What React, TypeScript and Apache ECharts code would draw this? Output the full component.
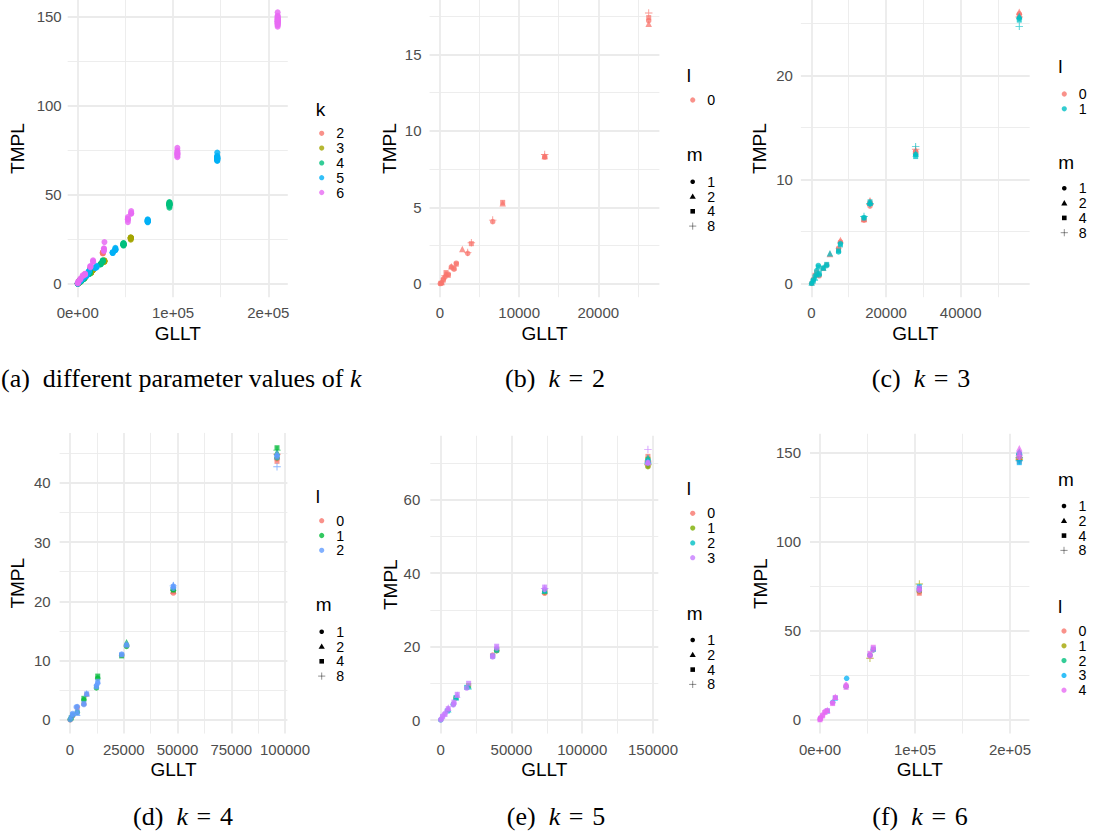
import React, { useEffect, useRef } from 'react';
import * as echarts from 'echarts';

// ---------------- data: rows are [GLLT, TMPL, l, m] ----------------
const K2_ROWS: number[][] = [
  [26370, 17.2, 0, 1], [26370, 17.0, 0, 2], [26370, 17.4, 0, 4], [26370, 17.7, 0, 8],
  [13230, 8.28, 0, 1], [13230, 8.35, 0, 2], [13230, 8.3, 0, 4], [13230, 8.45, 0, 8],
  [7920, 5.27, 0, 2], [7920, 5.32, 0, 4],
  [6660, 4.06, 0, 1], [6660, 4.16, 0, 8],
  [3960, 2.62, 0, 4], [3960, 2.68, 0, 8],
  [3500, 1.99, 0, 1], [3500, 2.05, 0, 8],
  [2820, 2.27, 0, 2],
  [2060, 1.28, 0, 4], [2060, 1.34, 0, 1],
  [1770, 0.95, 0, 1], [1770, 1.02, 0, 4],
  [1430, 1.1, 0, 1], [1430, 1.14, 0, 2],
  [1050, 0.55, 0, 4], [1050, 0.62, 0, 1],
  [760, 0.66, 0, 2], [760, 0.73, 0, 4],
  [630, 0.44, 0, 1], [630, 0.52, 0, 8],
  [420, 0.24, 0, 4], [420, 0.3, 0, 1],
  [210, 0.07, 0, 1], [210, 0.12, 0, 2],
  [100, 0.03, 0, 4], [40, 0.01, 0, 1],
];

const K3_ROWS: number[][] = [
  [55690, 25.9, 0, 1], [55690, 26.1, 0, 2], [55690, 25.7, 0, 4], [55690, 25.6, 0, 8],
  [55690, 25.5, 1, 1], [55690, 25.7, 1, 2], [55690, 25.3, 1, 4], [55690, 24.7, 1, 8],
  [27950, 12.7, 0, 1], [27950, 12.8, 0, 2], [27950, 12.6, 0, 4], [27950, 12.9, 0, 8],
  [27950, 12.4, 1, 1], [27950, 12.5, 1, 2], [27950, 12.2, 1, 4], [27950, 13.15, 1, 8],
  [15720, 7.45, 0, 1], [15720, 8.0, 0, 2], [15720, 7.7, 0, 4], [15720, 7.6, 0, 8],
  [15720, 7.65, 1, 1], [15720, 7.8, 1, 2], [15720, 7.85, 1, 4], [15720, 7.7, 1, 8],
  [14110, 6.1, 0, 1], [14110, 6.2, 0, 2], [14110, 6.15, 0, 4],
  [14110, 6.35, 1, 1], [14110, 6.3, 1, 4], [14110, 6.45, 1, 8],
  [7800, 4.0, 0, 1], [7800, 4.2, 0, 2], [7800, 3.85, 1, 1], [7800, 3.72, 1, 4],
  [7300, 3.4, 0, 1], [7300, 3.25, 0, 4], [7300, 3.15, 1, 4], [7300, 3.05, 1, 1],
  [5000, 2.85, 0, 2], [5000, 2.92, 1, 2],
  [4120, 1.8, 0, 1], [4120, 1.85, 1, 4], [4120, 1.72, 1, 1],
  [3210, 1.45, 0, 4], [3210, 1.5, 1, 4], [3210, 1.55, 1, 2],
  [2140, 0.75, 0, 1], [2140, 1.0, 1, 4], [2140, 0.85, 1, 1],
  [1880, 1.75, 1, 1], [1880, 1.6, 1, 4],
  [1440, 1.1, 0, 1], [1440, 1.25, 1, 1], [1440, 0.85, 1, 4],
  [990, 0.8, 0, 4], [990, 0.74, 1, 1], [990, 0.6, 1, 2],
  [540, 0.4, 0, 1], [540, 0.36, 1, 1], [540, 0.25, 1, 4],
  [100, 0.02, 0, 1], [100, 0.04, 1, 1], [100, 0.1, 1, 2],
];

const K4_ROWS: number[][] = [
  [96280, 44.0, 0, 1], [96280, 44.5, 0, 2], [96280, 43.6, 0, 4], [96280, 44.8, 0, 8],
  [96280, 44.2, 1, 1], [96280, 45.2, 1, 2], [96280, 45.9, 1, 4], [96280, 45.5, 1, 8],
  [96280, 44.6, 2, 1], [96280, 45.0, 2, 2], [96280, 44.3, 2, 4], [96280, 42.7, 2, 8],
  [48060, 21.4, 0, 1], [48060, 21.8, 0, 2], [48060, 21.6, 0, 4],
  [48060, 22.0, 1, 1], [48060, 22.3, 1, 2], [48060, 21.9, 1, 4],
  [48060, 22.2, 2, 1], [48060, 22.8, 2, 2], [48060, 22.5, 2, 4], [48060, 22.6, 2, 8],
  [26300, 12.5, 0, 1], [26300, 12.4, 1, 1], [26300, 13.1, 1, 2], [26300, 12.9, 2, 2], [26300, 12.6, 2, 4],
  [24030, 10.9, 0, 1], [24030, 10.8, 1, 4], [24030, 11.0, 2, 4], [24030, 11.1, 2, 1],
  [12900, 7.4, 1, 4], [12900, 7.05, 1, 1], [12900, 6.5, 2, 4], [12900, 6.2, 2, 1],
  [12300, 5.6, 2, 4], [12300, 5.4, 1, 1], [12300, 5.8, 2, 1],
  [7750, 4.3, 0, 1], [7750, 4.5, 2, 2], [7750, 4.4, 2, 4],
  [6450, 2.7, 0, 1], [6450, 3.65, 1, 4], [6450, 3.4, 1, 1], [6450, 2.8, 2, 4], [6450, 2.6, 2, 1],
  [3400, 2.1, 0, 1], [3400, 1.3, 1, 1], [3400, 2.25, 2, 1], [3400, 1.4, 2, 4], [3400, 1.2, 2, 2],
  [2900, 2.2, 2, 1],
  [1240, 0.7, 0, 1], [1240, 0.8, 1, 1], [1240, 1.1, 2, 1], [1240, 0.9, 2, 4],
  [600, 0.35, 1, 4], [600, 0.5, 2, 1],
  [100, 0.02, 0, 1], [100, 0.1, 1, 1], [100, 0.05, 2, 1],
];

const K5_ROWS: number[][] = [
  [146400, 69.2, 0, 1], [146400, 71.2, 0, 2], [146400, 71.8, 0, 4], [146400, 70.5, 0, 8],
  [146400, 69.0, 1, 1], [146400, 70.8, 1, 2], [146400, 71.0, 1, 4], [146400, 69.5, 1, 8],
  [146400, 70.2, 2, 1], [146400, 71.5, 2, 2], [146400, 70.6, 2, 4], [146400, 70.0, 2, 8],
  [146400, 69.9, 3, 1], [146400, 70.3, 3, 2], [146400, 70.1, 3, 4], [146400, 73.7, 3, 8],
  [73450, 34.5, 0, 1], [73450, 34.8, 0, 4], [73450, 34.9, 1, 1], [73450, 35.1, 1, 4],
  [73450, 35.3, 2, 2], [73450, 35.2, 2, 4], [73450, 35.6, 3, 1], [73450, 36.2, 3, 4], [73450, 35.8, 3, 8],
  [39550, 18.9, 0, 1], [39550, 18.9, 1, 1], [39550, 19.2, 1, 4], [39550, 19.0, 2, 4], [39550, 19.6, 3, 1], [39550, 20.1, 3, 4],
  [36720, 17.7, 0, 1], [36720, 17.4, 2, 4], [36720, 17.2, 3, 1], [36720, 17.5, 3, 4],
  [19770, 9.4, 1, 4], [19770, 9.2, 2, 2], [19770, 10.0, 3, 4],
  [18360, 8.9, 2, 4], [18360, 8.7, 3, 1],
  [11720, 6.9, 3, 2], [11720, 7.0, 3, 4],
  [10800, 6.0, 1, 1], [10800, 6.1, 2, 4], [10800, 6.2, 2, 2],
  [9390, 4.5, 3, 1], [9390, 4.9, 3, 4],
  [8900, 4.3, 2, 1], [8900, 4.1, 3, 1],
  [5370, 2.9, 2, 2], [5370, 3.1, 3, 4], [5370, 3.4, 3, 2],
  [4660, 2.45, 2, 4], [4660, 2.6, 3, 1],
  [3040, 1.5, 3, 4], [3040, 1.8, 3, 1],
  [1410, 0.9, 3, 4], [1410, 1.1, 3, 1],
  [400, 0.3, 3, 1],
  [50, 0.02, 2, 1], [50, 0.05, 3, 1],
];

const K6_ROWS: number[][] = [
  [209800, 146.3, 0, 1], [209800, 147.5, 0, 2], [209800, 145.2, 0, 4], [209800, 147.0, 0, 8],
  [209800, 147.8, 1, 1], [209800, 148.5, 1, 2], [209800, 146.5, 1, 4], [209800, 146.0, 1, 8],
  [209800, 149.0, 2, 1], [209800, 150.6, 2, 2], [209800, 148.7, 2, 4], [209800, 147.2, 2, 8],
  [209800, 149.7, 3, 1], [209800, 150.2, 3, 2], [209800, 144.4, 3, 4], [209800, 145.5, 3, 8],
  [209800, 147.4, 4, 1], [209800, 152.5, 4, 2], [209800, 149.4, 4, 4], [209800, 148.2, 4, 8],
  [104560, 71.8, 0, 1], [104560, 71.1, 0, 4], [104560, 72.4, 1, 1], [104560, 76.3, 1, 8],
  [104560, 73.0, 2, 4], [104560, 73.5, 3, 1], [104560, 74.8, 3, 4], [104560, 72.8, 4, 1], [104560, 74.0, 4, 4],
  [56100, 39.3, 2, 1], [56100, 39.8, 3, 4], [56100, 39.5, 4, 1], [56100, 40.8, 4, 4],
  [52630, 36.2, 0, 1], [52630, 34.6, 1, 8], [52630, 36.5, 3, 1], [52630, 35.9, 4, 1], [52630, 37.4, 4, 4],
  [28070, 23.4, 3, 1],
  [27500, 18.8, 2, 1], [27500, 19.6, 4, 1], [27500, 19.9, 4, 2], [27500, 18.3, 4, 4],
  [16140, 12.2, 3, 4], [16140, 13.1, 4, 2], [16140, 12.6, 4, 4],
  [13330, 9.9, 3, 1], [13330, 9.7, 4, 1], [13330, 9.2, 4, 4],
  [7720, 5.0, 3, 4], [7720, 5.6, 4, 2], [7720, 5.2, 4, 4],
  [5260, 4.7, 4, 1], [5260, 4.2, 4, 4],
  [2810, 2.8, 4, 1], [2810, 2.3, 4, 4],
  [700, 1.3, 4, 1], [700, 0.9, 4, 4],
  [50, 0.4, 4, 1], [50, 0.1, 4, 4],
];

const K_LEVELS = [2, 3, 4, 5, 6];
const M_LEVELS = [1, 2, 4, 8];
const ROWS_BY_K: Record<number, number[][]> = { 2: K2_ROWS, 3: K3_ROWS, 4: K4_ROWS, 5: K5_ROWS, 6: K6_ROWS };

// ---------------- tick values / labels ----------------
const SCI_X_TICKS = [0, 100000, 200000];
const SCI_X_LABELS = ['0e+00', '1e+05', '2e+05'];
const SCI_X_MINOR = [50000, 150000];
const Y150_TICKS = [0, 50, 100, 150];
const Y150_MINOR = [25, 75, 125];
const B_X_TICKS = [0, 10000, 20000];
const B_X_MINOR = [5000, 15000, 25000];
const B_Y_TICKS = [0, 5, 10, 15];
const B_Y_MINOR = [2.5, 7.5, 12.5, 17.5];
const C_X_TICKS = [0, 20000, 40000];
const C_X_MINOR = [10000, 30000, 50000];
const C_Y_TICKS = [0, 10, 20];
const C_Y_MINOR = [5, 15, 25];
const D_X_TICKS = [0, 25000, 50000, 75000, 100000];
const D_X_MINOR = [12500, 37500, 62500, 87500];
const D_Y_TICKS = [0, 10, 20, 30, 40];
const D_Y_MINOR = [5, 15, 25, 35, 45];
const E_X_TICKS = [0, 50000, 100000, 150000];
const E_X_MINOR = [25000, 75000, 125000];
const E_Y_TICKS = [0, 20, 40, 60];
const E_Y_MINOR = [10, 30, 50, 70];

const CAPTIONS = [
  '(a)\u00a0 different parameter values of {i|k}',
  '(b)\u00a0 {i|k}\u2004=\u20042',
  '(c)\u00a0 {i|k}\u2004=\u20043',
  '(d)\u00a0 {i|k}\u2004=\u20044',
  '(e)\u00a0 {i|k}\u2004=\u20045',
  '(f)\u00a0 {i|k}\u2004=\u20046',
];

// ---------------- styles ----------------
const FONT_SANS = '"Liberation Sans", Arial, Helvetica, sans-serif';
const FONT_SERIF = '"Liberation Serif", "Times New Roman", serif';
const HUE: Record<number, string[]> = {
  1: ['#F8766D'],
  2: ['#F8766D', '#00BFC4'],
  3: ['#F8766D', '#00BA38', '#619CFF'],
  4: ['#F8766D', '#7CAE00', '#00BFC4', '#C77CFF'],
  5: ['#F8766D', '#A3A500', '#00BF7D', '#00B0F6', '#E76BF3'],
};
const PLUS_PATH = 'path://M4.4,0H5.6V4.4H10V5.6H5.6V10H4.4V5.6H0V4.4H4.4Z';
const SYMBOL_OF_M: Record<number, string> = { 1: 'circle', 2: 'triangle', 4: 'rect', 8: PLUS_PATH };
const SIZE_OF_M: Record<number, number> = { 1: 5.5, 2: 6.5, 4: 5, 8: 7.5 };
const PITCH = 14.8;
const LEGEND_FONT = 14.2;

type AxisSpec = { min: number; max: number; ticks: number[]; labels?: string[]; minor: number[] };
type Panel = {
  grid: { left: number; top: number; width: number; height: number };
  x: AxisSpec; y: AxisSpec; yGap: number; yMargin: number;
  keyX: number;
  blocks: { kind: 'color' | 'shape'; title: string; titleY: number; rowY: number }[];
  caption: { x: number; y: number; align: string };
};

const PANELS: Panel[] = [
  {
    grid: { left: 67.7, top: 0, width: 220.1, height: 297.2 },
    x: { min: -10490, max: 220440, ticks: SCI_X_TICKS, labels: SCI_X_LABELS, minor: SCI_X_MINOR },
    y: { min: -7.6, max: 159.4, ticks: Y150_TICKS, minor: Y150_MINOR },
    yGap: 40.5, yMargin: 6, keyX: 321.7,
    blocks: [{ kind: 'color', title: 'k', titleY: 109, rowY: 133.3 }],
    caption: { x: 1, y: 378, align: 'left' },
  },
  {
    grid: { left: 429.55, top: 0, width: 229.85, height: 297.2 },
    x: { min: -1320, max: 27720, ticks: B_X_TICKS, minor: B_X_MINOR },
    y: { min: -0.88, max: 18.55, ticks: B_Y_TICKS, minor: B_Y_MINOR },
    yGap: 30.8, yMargin: 8, keyX: 692.7,
    blocks: [
      { kind: 'color', title: 'l', titleY: 75, rowY: 100 },
      { kind: 'shape', title: 'm', titleY: 154.1, rowY: 181.7 },
    ],
    caption: { x: 555, y: 378, align: 'center' },
  },
  {
    grid: { left: 800.9, top: 0, width: 228.8, height: 297.2 },
    x: { min: -2785, max: 58485, ticks: C_X_TICKS, minor: C_X_MINOR },
    y: { min: -1.3, max: 27.23, ticks: C_Y_TICKS, minor: C_Y_MINOR },
    yGap: 32.2, yMargin: 8, keyX: 1064.3,
    blocks: [
      { kind: 'color', title: 'l', titleY: 66.7, rowY: 94 },
      { kind: 'shape', title: 'm', titleY: 162.4, rowY: 188.3 },
    ],
    caption: { x: 921, y: 378, align: 'center' },
  },
  {
    grid: { left: 59.65, top: 432.9, width: 227.75, height: 300.7 },
    x: { min: -4815, max: 101115, ticks: D_X_TICKS, minor: D_X_MINOR },
    y: { min: -2.3, max: 48.4, ticks: D_Y_TICKS, minor: D_Y_MINOR },
    yGap: 32.6, yMargin: 9, keyX: 321.7,
    blocks: [
      { kind: 'color', title: 'l', titleY: 496, rowY: 520.7 },
      { kind: 'shape', title: 'm', titleY: 604.8, rowY: 631.7 },
    ],
    caption: { x: 183, y: 816, align: 'center' },
  },
  {
    grid: { left: 430.3, top: 435.8, width: 228, height: 297.8 },
    x: { min: -7320, max: 153720, ticks: E_X_TICKS, minor: E_X_MINOR },
    y: { min: -3.7, max: 77.4, ticks: E_Y_TICKS, minor: E_Y_MINOR },
    yGap: 30.8, yMargin: 10, keyX: 692.7,
    blocks: [
      { kind: 'color', title: 'l', titleY: 488.3, rowY: 513.3 },
      { kind: 'shape', title: 'm', titleY: 613.1, rowY: 640 },
    ],
    caption: { x: 556, y: 816, align: 'center' },
  },
  {
    grid: { left: 810, top: 433.8, width: 219.4, height: 299.8 },
    x: { min: -10490, max: 220440, ticks: SCI_X_TICKS, labels: SCI_X_LABELS, minor: SCI_X_MINOR },
    y: { min: -7.65, max: 160.6, ticks: Y150_TICKS, minor: Y150_MINOR },
    yGap: 40.5, yMargin: 9, keyX: 1064,
    blocks: [
      { kind: 'shape', title: 'm', titleY: 479.8, rowY: 506 },
      { kind: 'color', title: 'l', titleY: 606.7, rowY: 631 },
    ],
    caption: { x: 920, y: 816, align: 'center' },
  },
];

function makeAxes(dim: 'x' | 'y', idx: number, spec: AxisSpec, p: Panel) {
  const isX = dim === 'x';
  const fmt = (v: number) => {
    if (spec.labels) {
      const j = spec.ticks.indexOf(v);
      if (j >= 0) return spec.labels[j];
    }
    return String(v);
  };
  const major: any = {
    type: 'value', gridIndex: idx, min: spec.min, max: spec.max,
    position: isX ? 'bottom' : 'left',
    name: isX ? 'GLLT' : 'TMPL', nameLocation: 'middle',
    nameGap: isX ? 26.5 : p.yGap, nameMoveOverlap: false,
    nameTextStyle: { color: '#000', fontSize: 19, fontFamily: FONT_SANS },
    axisLine: { show: false },
    axisTick: { show: false, customValues: spec.ticks },
    axisLabel: {
      show: true, customValues: spec.ticks, formatter: fmt, color: '#4D4D4D',
      fontSize: 15, fontFamily: FONT_SANS, margin: isX ? 8 : p.yMargin, hideOverlap: false,
    },
    splitLine: { show: true, lineStyle: { color: '#EBEBEB', width: 1.8 } },
    minorTick: { show: false }, minorSplitLine: { show: false },
  };
  const minor: any = {
    type: 'value', gridIndex: idx, min: spec.min, max: spec.max,
    position: isX ? 'top' : 'right',
    axisLine: { show: false },
    axisTick: { show: false, customValues: spec.minor },
    axisLabel: { show: false, customValues: spec.minor },
    splitLine: { show: true, lineStyle: { color: '#EBEBEB', width: 0.9 } },
  };
  return [major, minor];
}

function buildOption() {
  const grids: any[] = [];
  const xAxes: any[] = [];
  const yAxes: any[] = [];
  const series: any[] = [];
  const els: any[] = [];

  PANELS.forEach((p, i) => {
    grids.push({ ...p.grid, containLabel: false, outerBoundsMode: 'none', show: false });
    xAxes.push(...makeAxes('x', i, p.x, p));
    yAxes.push(...makeAxes('y', i, p.y, p));
  });

  // panel (a): all k, coloured by k
  K_LEVELS.forEach((k, j) => {
    series.push({
      type: 'scatter', name: `a-k${k}`, xAxisIndex: 0, yAxisIndex: 0,
      data: ROWS_BY_K[k].map((r) => [r[0], r[1]]),
      symbol: 'circle', symbolSize: 6,
      itemStyle: { color: HUE[5][j], opacity: 0.85 }, silent: true,
    });
  });

  // panels (b)-(f): one k each, colour by l, shape by m
  K_LEVELS.forEach((k, pi) => {
    const idx = pi + 1;
    const rows = ROWS_BY_K[k];
    const nL = k - 1;
    for (let l = 0; l < nL; l++) {
      M_LEVELS.forEach((m) => {
        const pts = rows.filter((r) => r[2] === l && r[3] === m).map((r) => [r[0], r[1]]);
        if (!pts.length) return;
        series.push({
          type: 'scatter', name: `k${k}-l${l}-m${m}`,
          xAxisIndex: idx * 2, yAxisIndex: idx * 2,
          data: pts, symbol: SYMBOL_OF_M[m], symbolSize: SIZE_OF_M[m],
          itemStyle: { color: HUE[nL][l], opacity: 0.75 }, silent: true,
        });
      });
    }
  });

  // legends (drawn as graphic keys)
  PANELS.forEach((p, i) => {
    const kx = p.keyX;
    p.blocks.forEach((b) => {
      els.push({
        type: 'text', silent: true,
        style: { text: b.title, x: kx - 6, y: b.titleY, font: `19px ${FONT_SANS}`, fill: '#000', align: 'left', verticalAlign: 'middle' },
      });
      let labels: string[];
      if (b.kind === 'color') {
        let colors: string[];
        if (i === 0) { labels = K_LEVELS.map(String); colors = HUE[5]; }
        else { const nL = i; labels = Array.from({ length: nL }, (_, l) => String(l)); colors = HUE[nL]; }
        labels.forEach((_, j) => {
          els.push({ type: 'circle', silent: true, shape: { cx: kx, cy: b.rowY + j * PITCH, r: 2.6 }, style: { fill: colors[j], opacity: 0.8 } });
        });
      } else {
        labels = M_LEVELS.map(String);
        M_LEVELS.forEach((m, j) => {
          const cy = b.rowY + j * PITCH;
          if (m === 1) els.push({ type: 'circle', silent: true, shape: { cx: kx, cy, r: 2.3 }, style: { fill: '#000' } });
          if (m === 2) els.push({ type: 'polygon', silent: true, shape: { points: [[kx, cy - 3], [kx + 3.1, cy + 2.3], [kx - 3.1, cy + 2.3]] }, style: { fill: '#000' } });
          if (m === 4) els.push({ type: 'rect', silent: true, shape: { x: kx - 2.3, y: cy - 2.3, width: 4.6, height: 4.6 }, style: { fill: '#000' } });
          if (m === 8) {
            els.push({ type: 'line', silent: true, shape: { x1: kx - 3.6, y1: cy, x2: kx + 3.6, y2: cy }, style: { stroke: '#000', lineWidth: 0.8, opacity: 0.55 } });
            els.push({ type: 'line', silent: true, shape: { x1: kx, y1: cy - 3.6, x2: kx, y2: cy + 3.6 }, style: { stroke: '#000', lineWidth: 0.8, opacity: 0.55 } });
          }
        });
      }
      labels.forEach((t, j) => {
        els.push({
          type: 'text', silent: true,
          style: {
            text: t, x: kx + 14.5, y: b.rowY + j * PITCH, font: `${LEGEND_FONT}px ${FONT_SANS}`,
            lineHeight: 13, fill: '#000', align: 'left', verticalAlign: 'middle',
          },
        });
      });
    });

    // caption
    els.push({
      type: 'text', silent: true,
      style: {
        text: CAPTIONS[i], x: p.caption.x, y: p.caption.y, align: p.caption.align, verticalAlign: 'middle',
        fontFamily: FONT_SERIF, fontSize: 26, fill: '#000',
        rich: {
          i: { fontFamily: FONT_SERIF, fontSize: 26, fontStyle: 'italic', fill: '#000' },
        },
      },
    });
  });

  return {
    animation: false,
    backgroundColor: '#ffffff',
    grid: grids,
    xAxis: xAxes,
    yAxis: yAxes,
    series,
    graphic: { elements: els },
  };
}

export default function App() {
  const ref = useRef<HTMLDivElement>(null);
  useEffect(() => {
    if (!ref.current) return;
    const chart = echarts.init(ref.current, null, { renderer: 'svg' });
    chart.setOption(buildOption() as any);
    return () => chart.dispose();
  }, []);
  return (
    <div
      ref={ref}
      style={{ position: 'absolute', left: 0, top: 0, width: 1094, height: 836, background: '#fff' }}
    />
  );
}
